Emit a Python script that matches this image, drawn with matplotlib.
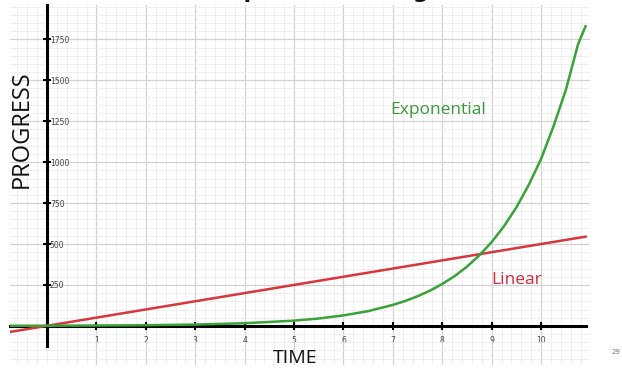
import matplotlib.pyplot as plt
from matplotlib.ticker import MultipleLocator

# values
time_exp = [-0.75, 0, 1, 2, 3, 4, 5, 5.5, 6, 6.5, 7, 7.25, 7.5, 7.75, 8, 8.25, 8.5, 8.75,
            9, 9.25, 9.5, 9.75, 10, 10.25, 10.5, 10.75, 10.9]
progress_exp = [0.6, 1, 2, 4, 8, 16, 32, 45, 64, 90, 128, 152, 181, 215, 256, 304, 362, 431,
                512, 609, 724, 861, 1020, 1218, 1440, 1722, 1830]

time_lin = [-0.75, 10.9]
progress_lin = [-37, 545]

x_ticks = list(range(1, 11))
y_ticks = [250, 500, 750, 1000, 1250, 1500, 1750]

green = '#38a338'
red = '#d8363c'

fig = plt.figure(figsize=(6.22, 3.72), dpi=100)
ax = fig.add_axes([10 / 622, 7 / 372, 580 / 622, 360 / 372])

ax.set_xlim(-0.75, 10.99)
ax.set_ylim(-239, 1960)

# grid
ax.xaxis.set_major_locator(MultipleLocator(1))
ax.xaxis.set_minor_locator(MultipleLocator(0.2))
ax.yaxis.set_major_locator(MultipleLocator(250))
ax.yaxis.set_minor_locator(MultipleLocator(50))
ax.grid(which='major', color='#d2d2d2', linewidth=0.9)
ax.grid(which='minor', color='#ececec', linewidth=0.6)
ax.set_axisbelow(True)

# axes through the origin
ax.spines['left'].set_position(('data', 0))
ax.spines['bottom'].set_position(('data', 0))
ax.spines['right'].set_visible(False)
ax.spines['top'].set_visible(False)
ax.spines['left'].set_linewidth(2.2)
ax.spines['bottom'].set_linewidth(2.2)
ax.spines['left'].set_bounds(-120, 1960)
ax.spines['bottom'].set_bounds(-0.75, 10.9)

ax.set_xticks(x_ticks)
ax.set_xticklabels([str(t) for t in x_ticks])
ax.set_yticks(y_ticks)
ax.set_yticklabels([str(t) for t in y_ticks])
ax.tick_params(which='major', direction='inout', length=6, width=1.5,
               labelsize=5.5, labelcolor='#444444')
ax.tick_params(which='minor', length=0)
ax.tick_params(axis='x', pad=4)
ax.tick_params(axis='y', pad=-5)
for lab in ax.get_yticklabels():
    lab.set_horizontalalignment('left')

ax.plot(time_lin, progress_lin, color=red, linewidth=1.8, zorder=3)
ax.plot(time_exp, progress_exp, color=green, linewidth=1.8, zorder=4)

ax.text(6.95, 1320, 'Exponential', color='#3a9a3a', fontsize=12.5,
        family='Open Sans', fontweight='medium', ha='left', va='center')
ax.text(9.0, 280, 'Linear', color='#d02a3e', fontsize=12.5,
        family='Open Sans', fontweight='medium', ha='left', va='center')

fig.text(295 / 622, (372 - 358) / 372, 'TIME', fontsize=14,
         family='Open Sans', ha='center', va='center', color='#111111')
fig.text(22 / 622, (372 - 129) / 372, 'PROGRESS', fontsize=17,
         family='Open Sans', ha='center', va='center', rotation=90, color='#111111')

# title, mostly cut off by the top edge
fig.text(214 / 622, 1 + 2 / 372, 'Exponential Progress', fontsize=16,
         fontweight='bold', ha='left', va='baseline', color='#111111')

fig.text(612 / 622, (372 - 352) / 372, '29', fontsize=5, color='#777777',
         ha='left', va='center')

fig.savefig('out.png', dpi=100)
